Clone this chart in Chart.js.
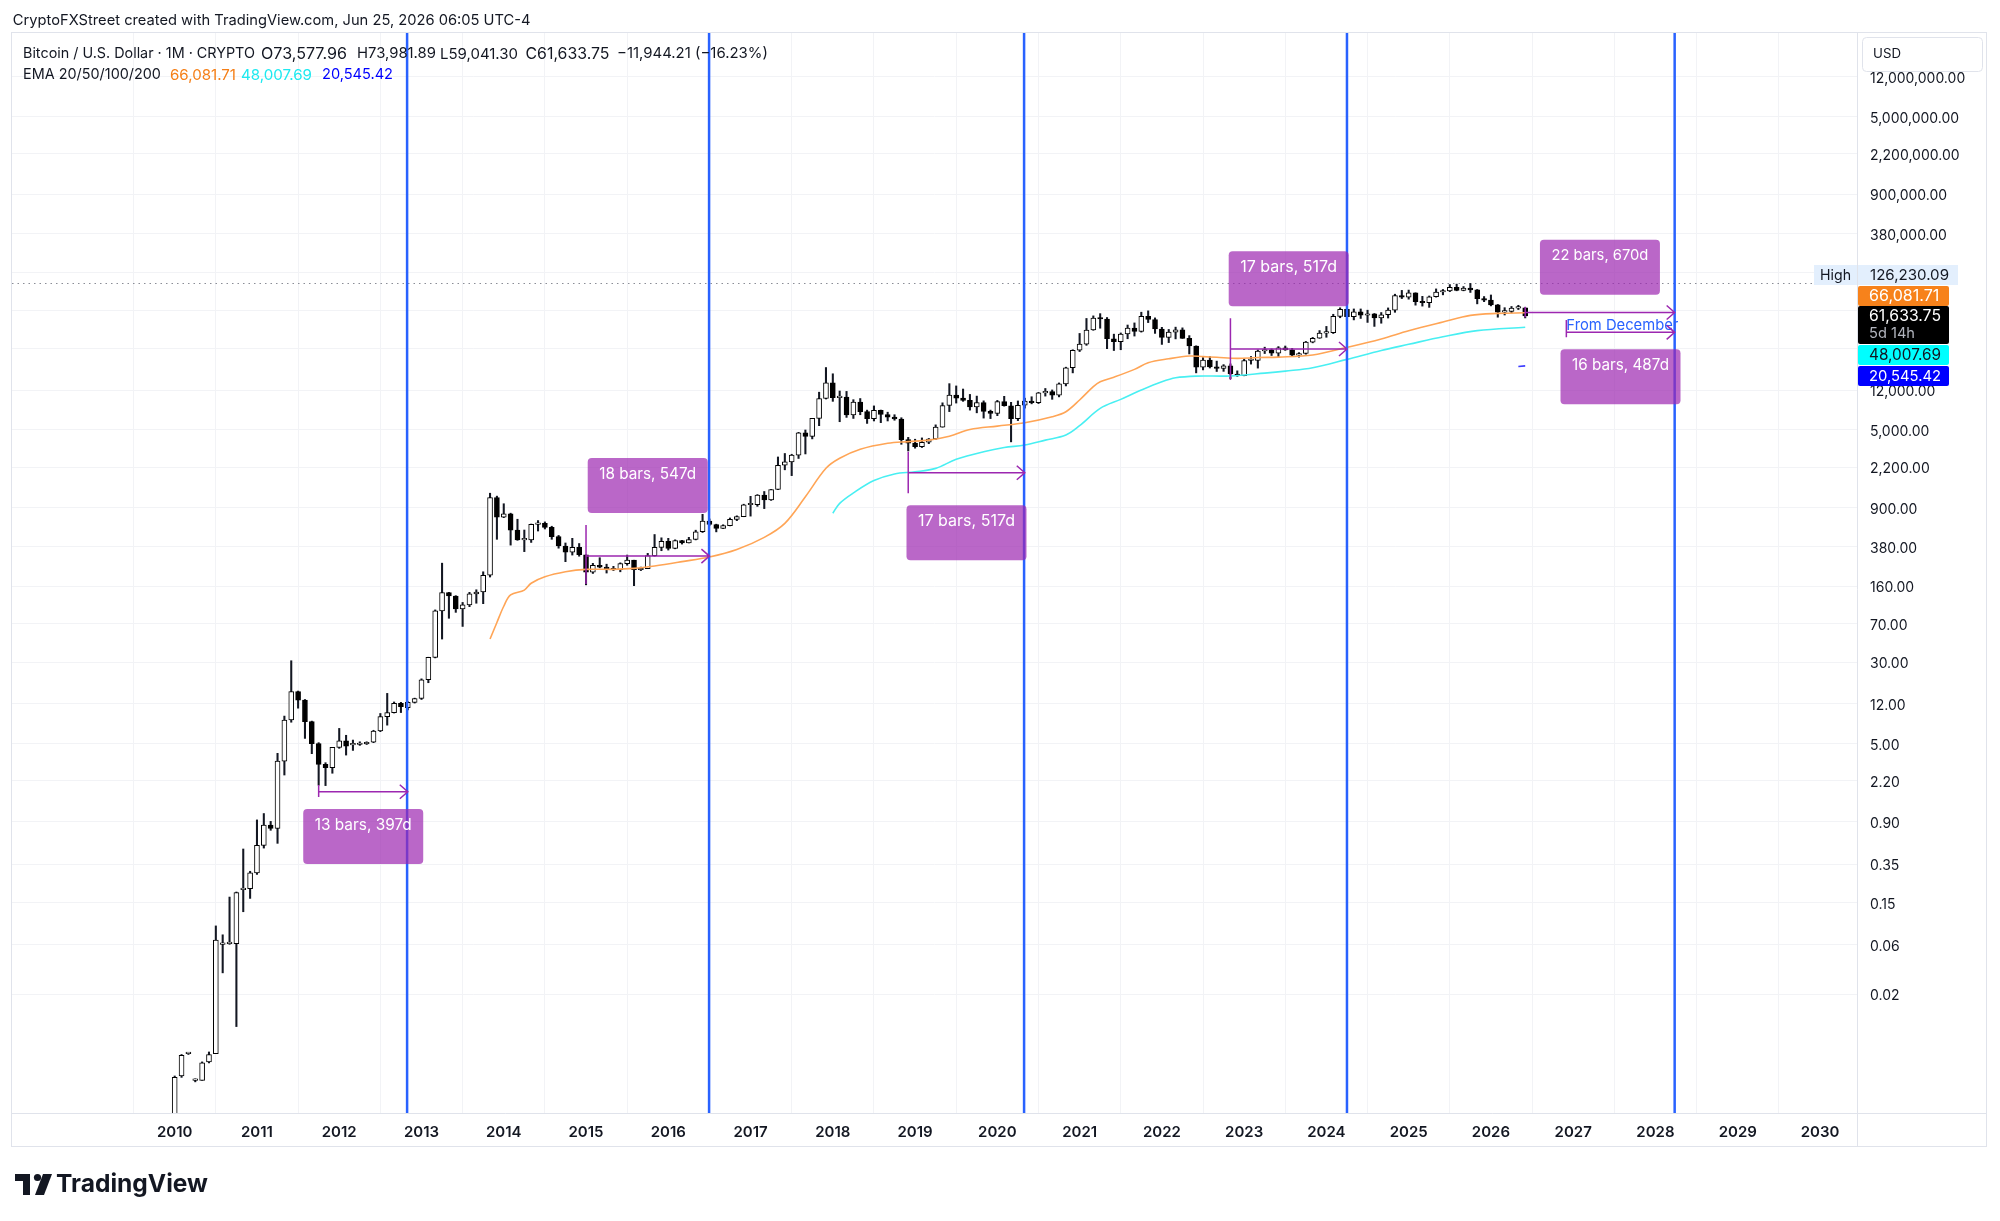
<!DOCTYPE html>
<html>
<head>
<meta charset="utf-8">
<script src="https://cdn.jsdelivr.net/npm/chart.js@4.4.1/dist/chart.umd.min.js"></script>
<style>
  html, body { margin: 0; padding: 0; background: #fff; }
  canvas { display: block; }
</style>
</head>
<body>
<canvas id="chart" width="2000" height="1221"></canvas>
<script>
// monthly candles, index 0 = Jan 2010
const opens = [
  0.0012, 0.0033, 0.0054, 0.0030, 0.0030, 0.0045, 0.0054, 0.060, 0.061, 0.061, 0.20, 0.205,
  0.29, 0.53, 0.83, 0.77, 3.4, 8.4, 15.7, 13.0, 8.1, 5.0, 3.16, 2.94,
  4.59, 5.32, 4.85, 4.9, 4.97, 5.15, 6.6, 9.05, 9.87, 12.1, 11.0, 12.4,
  13.5, 20.4, 33.4, 93, 139, 129, 97, 106, 135, 141, 204, 1130,
  732, 790, 550, 445, 445, 625, 640, 585, 478, 388, 338, 378,
  320, 218, 254, 244, 236, 230, 263, 284, 230, 236, 314, 377,
  430, 368, 437, 416, 448, 531, 673, 624, 573, 609, 698, 742,
  963, 965, 1190, 1071, 1348, 2300, 2480, 2875, 4700, 4340, 6450, 10000,
  14150, 10200, 10300, 6970, 9240, 7500, 6400, 7730, 7030, 6630, 6370, 4040,
  3740, 3460, 3820, 4100, 5320, 8570, 10820, 10080, 9600, 8300, 9150, 7540,
  7200, 9350, 8530, 6420, 8630, 9450, 9140, 11340, 11650, 10780, 13800, 19700,
  28950, 33100, 45240, 58800, 57700, 37300, 35040, 41460, 47100, 43800, 61300, 57000,
  46300, 38500, 43200, 45500, 37700, 31800, 19940, 23300, 20050, 19430, 20500, 17170,
  16540, 23130, 23150, 28480, 29250, 27200, 30480, 29240, 25950, 26970, 34650, 37720,
  42280, 42580, 61130, 71300, 60630, 67500, 62700, 64620, 58970, 63330, 70220, 96450,
  93430, 102430, 84350, 82550, 94200, 104600, 107150, 115750, 108250, 114050, 109550, 90400,
  87500, 78600, 67000, 68200, 73200, 73577.96
];
const highs = [
  0.0033, 0.0053, 0.0055, 0.0031, 0.0045, 0.0056, 0.090, 0.074, 0.17, 0.19, 0.49, 0.30,
  0.93, 1.07, 0.90, 4.03, 9.16, 31.0, 15.9, 13.2, 8.2, 5.1, 3.28, 4.6,
  6.98, 6.0, 5.4, 5.2, 5.2, 6.7, 9.7, 15.1, 12.5, 12.4, 12.6, 13.6,
  20.8, 33.5, 95, 266, 140, 130, 112, 140, 148, 220, 1242, 1165,
  985, 800, 700, 552, 630, 680, 660, 600, 490, 415, 460, 410,
  320, 265, 300, 260, 248, 268, 318, 284, 244, 330, 500, 465,
  460, 445, 440, 470, 550, 780, 705, 628, 620, 720, 755, 975,
  1160, 1205, 1290, 1350, 2760, 2980, 2930, 4750, 5000, 6470, 11500, 19800,
  17250, 11800, 11700, 9750, 10000, 7750, 8500, 7760, 7400, 7000, 6550, 4250,
  4080, 4200, 4150, 5600, 9100, 13880, 13200, 12330, 10950, 10550, 9500, 7750,
  9600, 10500, 9200, 9480, 10080, 10400, 11450, 12480, 12080, 14100, 19950, 29300,
  41950, 58350, 61780, 64900, 59600, 41300, 42400, 50500, 52900, 67000, 69000, 59100,
  48000, 45800, 48200, 47450, 40000, 31950, 24650, 25200, 22800, 21100, 21450, 18400,
  23950, 25250, 29200, 31000, 29850, 31400, 31800, 30200, 27500, 35200, 38450, 44700,
  48970, 64000, 73800, 72750, 71950, 71950, 70000, 65100, 66500, 73600, 99600, 108300,
  109100, 102750, 95000, 95750, 111900, 110500, 123100, 124400, 117900, 126230.09, 110600, 94600,
  97900, 79500, 74000, 76000, 78000, 73981.89
];
const lows = [
  0.0011, 0.0032, 0.0053, 0.0029, 0.0030, 0.0044, 0.0054, 0.032, 0.060, 0.0098, 0.123, 0.165,
  0.28, 0.50, 0.74, 0.555, 2.5, 8.0, 10.9, 5.6, 4.0, 2.0, 1.98, 2.6,
  4.5, 3.88, 4.3, 4.8, 4.9, 5.1, 6.5, 7.5, 9.8, 9.9, 10.5, 12.2,
  13.2, 19.1, 33, 50, 79, 90, 66, 102, 110, 109, 196, 450,
  725, 396, 440, 343, 420, 540, 565, 450, 370, 275, 318, 310,
  165, 212, 240, 214, 226, 220, 254, 162, 226, 236, 310, 350,
  355, 365, 405, 415, 444, 523, 610, 530, 570, 605, 678, 740,
  750, 930, 885, 1060, 1345, 2080, 1830, 2670, 2950, 4110, 5500, 9900,
  9400, 6000, 6600, 6450, 7000, 5780, 6100, 5880, 6100, 6200, 3650, 3150,
  3350, 3400, 3700, 4050, 5320, 7500, 9050, 9400, 7750, 7300, 6500, 6430,
  6860, 8450, 3850, 6150, 8100, 8900, 8950, 10550, 9830, 10370, 13200, 17600,
  28150, 32300, 44950, 47050, 30000, 28800, 29300, 37330, 39600, 43200, 53300, 42000,
  32950, 34300, 37200, 37600, 26700, 17600, 18800, 19600, 18150, 18200, 15500, 16300,
  16500, 21350, 19550, 26950, 25800, 24800, 28900, 25400, 24900, 26550, 34100, 37650,
  38550, 41900, 59300, 56500, 56550, 58400, 53500, 49000, 52550, 58900, 66850, 90500,
  89250, 78250, 76600, 74500, 93400, 98200, 105300, 107350, 107300, 103500, 80500, 84500,
  77000, 60000, 63000, 66000, 71000, 59041.30
];
const closes = [
  0.0032, 0.0052, 0.0054, 0.0030, 0.0044, 0.0053, 0.066, 0.061, 0.062, 0.188, 0.201, 0.29,
  0.53, 0.83, 0.77, 3.40, 8.4, 15.7, 13.0, 8.1, 5.0, 3.16, 2.94, 4.59,
  5.32, 4.73, 4.9, 4.97, 5.15, 6.6, 9.05, 9.87, 12.1, 11.3, 12.4, 13.5,
  20.4, 33.4, 93, 139, 129, 97, 106, 135, 141, 204, 1130, 732,
  790, 550, 445, 445, 625, 640, 585, 478, 388, 338, 378, 320,
  218, 254, 244, 236, 230, 263, 284, 230, 236, 314, 377, 430,
  368, 437, 416, 448, 531, 673, 624, 573, 609, 698, 742, 963,
  965, 1190, 1071, 1348, 2300, 2480, 2875, 4700, 4340, 6450, 10000, 14150,
  10200, 10300, 6970, 9240, 7500, 6400, 7730, 7030, 6630, 6370, 4040, 3740,
  3460, 3820, 4100, 5320, 8570, 10820, 10080, 9600, 8300, 9150, 7540, 7200,
  9350, 8530, 6420, 8630, 9450, 9140, 11340, 11650, 10780, 13800, 19700, 28950,
  33100, 45240, 58800, 57700, 37300, 35040, 41460, 47100, 43800, 61300, 57000, 46300,
  38500, 43200, 45500, 37700, 31800, 19940, 23300, 20050, 19430, 20500, 17170, 16540,
  23130, 23150, 28480, 29250, 27200, 30480, 29240, 25950, 26970, 34650, 37720, 42280,
  42580, 61130, 71300, 60630, 67500, 62700, 64620, 58970, 63330, 70220, 96450, 93430,
  102430, 84350, 82550, 94200, 104600, 107150, 115750, 108250, 114050, 109550, 90400, 87500,
  78600, 67000, 68200, 73200, 73577.96, 61633.75
];

// EMA lines (month index, value)
const ema20Months = [46, 47, 48, 49, 51, 52, 54, 57, 60, 64, 67, 70, 74, 78, 82, 86, 89, 92, 95, 97, 100, 104, 107, 110, 113, 116, 120, 124, 128, 130, 132, 134, 135, 137, 140, 142, 145, 148, 150, 152, 155, 158, 161, 166, 171, 176, 180, 185, 189, 193, 197];
const ema20 = [50, 72, 103, 132, 147, 171, 197, 220, 232, 232, 237, 250, 275, 305, 360, 470, 640, 1150, 2150, 2680, 3270, 3730, 3870, 4000, 4350, 5050, 5450, 5870, 6700, 7480, 9680, 13000, 14480, 16000, 19010, 22000, 24000, 25500, 25200, 24800, 24200, 24700, 24900, 26100, 30900, 37200, 44500, 54000, 62500, 65300, 66081.71];
const ema50Months = [96, 97, 99, 102, 105, 108, 111, 114, 118, 121, 124, 127, 130, 132, 135, 138, 141, 144, 146, 149, 154, 159, 162, 166, 171, 176, 180, 185, 190, 197];
const ema50 = [800, 994, 1250, 1640, 1900, 1990, 2147, 2620, 3100, 3400, 3590, 4000, 4480, 5500, 8050, 9820, 12060, 14480, 15800, 16400, 16450, 17500, 18300, 19700, 23700, 28800, 33000, 39000, 44600, 48007.69];
const ema100Months = [196, 197];
const ema100 = [20250, 20545.42];

// axes
const yearTicks = [0, 12, 24, 36, 48, 60, 72, 84, 96, 108, 120, 132, 144, 156, 168, 180, 192, 204, 216, 228, 240];
const yearLabels = ['2010', '2011', '2012', '2013', '2014', '2015', '2016', '2017', '2018', '2019', '2020', '2021', '2022', '2023', '2024', '2025', '2026', '2027', '2028', '2029', '2030'];
const priceTicks = [12000000, 5000000, 2200000, 900000, 380000, 160000, 70000, 30000, 12000, 5000, 2200, 900, 380, 160, 70, 30, 12, 5, 2.2, 0.9, 0.35, 0.15, 0.06, 0.02];
const priceLabels = ['12,000,000.00', '5,000,000.00', '2,200,000.00', '900,000.00', '380,000.00', '', '', '', '12,000.00', '5,000.00', '2,200.00', '900.00', '380.00', '160.00', '70.00', '30.00', '12.00', '5.00', '2.20', '0.90', '0.35', '0.15', '0.06', '0.02'];

// drawings
const halvingMonths = [33.9, 77.95, 123.9, 171, 218.8];
const rangeLabels = ['13 bars, 397d', '18 bars, 547d', '17 bars, 517d', '17 bars, 517d', '22 bars, 670d', '16 bars, 487d'];
const rangeStart = [21, 60, 107, 154, 197, 203];
const rangeEnd = [34, 78, 124, 171, 218.8, 218.8];
const rangePrice = [1.73, 311, 1952, 29800, 66600, 43000];
const rangeTop = [2.01, 617, 3100, 58600, 75600, 56400];
const rangeBottom = [1.54, 168, 1240, 15040, 59800, 38550];
const rangeSide = ['below', 'above', 'below', 'above', 'above', 'below'];
const athHigh = 126230.09;
const tagTexts = ['126,230.09', '66,081.71', '61,633.75', '48,007.69', '20,545.42'];

const FONT = 'Inter, "Noto Sans", sans-serif';
const months = opens.map((_, i) => i);

function fitText(ctx, txt, x, y, w, size, weight) {
  ctx.font = `${weight} ${size}px ${FONT}`;
  if (w) {
    const m = ctx.measureText(txt).width;
    const s = Math.max(0.85, Math.min(1.15, w / m));
    ctx.font = `${weight} ${(size * s).toFixed(2)}px ${FONT}`;
  }
  ctx.fillText(txt, x, y);
}

function rrect(ctx, x, y, w, h, r) {
  ctx.beginPath();
  ctx.roundRect(x, y, w, h, r);
}

const overlay = {
  id: 'overlay',
  beforeDraw(chart) {
    const ctx = chart.ctx;
    ctx.save();
    ctx.fillStyle = '#ffffff';
    ctx.fillRect(0, 0, chart.width, chart.height);
    ctx.restore();
  },
  beforeDatasetsDraw(chart) {
    const { ctx, chartArea: a, scales: { y } } = chart;
    ctx.save();
    // all-time high dotted line
    const hy = Math.round(y.getPixelForValue(athHigh)) + 0.5;
    ctx.strokeStyle = '#8a8d96';
    ctx.lineWidth = 1;
    ctx.setLineDash([1.5, 4]);
    ctx.beginPath();
    ctx.moveTo(a.left, hy);
    ctx.lineTo(1814, hy);
    ctx.stroke();
    ctx.restore();
  },
  afterDatasetsDraw(chart) {
    const { ctx, chartArea: a, scales: { x, y } } = chart;
    ctx.save();
    ctx.beginPath();
    ctx.rect(a.left, a.top, a.right - a.left, a.bottom - a.top);
    ctx.clip();

    // "From December" note above the last range
    const i6 = 5;
    ctx.fillStyle = '#2962ff';
    ctx.textBaseline = 'middle';
    ctx.textAlign = 'left';
    fitText(ctx, 'From December', x.getPixelForValue(rangeStart[i6]), y.getPixelForValue(rangePrice[i6]) - 7, 112, 15, 400);

    // halving lines
    ctx.strokeStyle = '#2962ff';
    ctx.lineWidth = 2.5;
    halvingMonths.forEach(m => {
      const px = x.getPixelForValue(m);
      ctx.beginPath();
      ctx.moveTo(px, a.top);
      ctx.lineTo(px, a.bottom);
      ctx.stroke();
    });

    // date ranges
    rangeLabels.forEach((lab, i) => {
      const x1 = x.getPixelForValue(rangeStart[i]);
      const x2 = x.getPixelForValue(rangeEnd[i]);
      const ly = y.getPixelForValue(rangePrice[i]);
      const t = y.getPixelForValue(rangeTop[i]);
      const b = y.getPixelForValue(rangeBottom[i]);
      ctx.strokeStyle = '#9c27b0';
      ctx.lineWidth = 1.5;
      ctx.beginPath();
      ctx.moveTo(x1, t); ctx.lineTo(x1, b);
      ctx.moveTo(x1, ly); ctx.lineTo(x2, ly);
      ctx.moveTo(x2 - 8, ly - 7); ctx.lineTo(x2, ly); ctx.lineTo(x2 - 8, ly + 7);
      ctx.stroke();

      const bw = 120, bh = 55;
      const bx = (x1 + x2) / 2 - bw / 2;
      const by = rangeSide[i] === 'below' ? b + 12 : t - 12 - bh;
      ctx.fillStyle = 'rgba(156, 39, 176, 0.7)';
      rrect(ctx, bx, by, bw, bh, 4);
      ctx.fill();
      ctx.fillStyle = '#ffffff';
      ctx.textAlign = 'center';
      ctx.textBaseline = 'middle';
      fitText(ctx, lab, bx + bw / 2, by + 16, 97, 15, 400);
    });
    ctx.restore();
  },
  afterDraw(chart) {
    const { ctx } = chart;
    ctx.save();
    // frame
    ctx.strokeStyle = '#e0e3eb';
    ctx.lineWidth = 1;
    ctx.strokeRect(11.5, 32.5, 1975, 1114);
    ctx.beginPath();
    ctx.moveTo(1857.5, 32.5); ctx.lineTo(1857.5, 1146.5);
    ctx.moveTo(11.5, 1113.5); ctx.lineTo(1986.5, 1113.5);
    ctx.stroke();

    // currency box
    ctx.fillStyle = '#ffffff';
    rrect(ctx, 1862.5, 37.5, 120, 34, 4);
    ctx.fill();
    ctx.strokeStyle = '#e0e3eb';
    ctx.stroke();
    ctx.fillStyle = '#131722';
    ctx.textAlign = 'left';
    ctx.textBaseline = 'middle';
    fitText(ctx, 'USD', 1873, 54, 28, 14, 400);

    // price tags on the axis
    ctx.fillStyle = '#e3effd';
    ctx.fillRect(1814, 265, 43, 20);
    ctx.fillRect(1858, 265, 100, 20);
    ctx.fillStyle = '#131722';
    fitText(ctx, 'High', 1820, 275.5, 31, 14, 400);
    fitText(ctx, tagTexts[0], 1870, 275.5, 79, 14, 400);
    const tags = [
      { top: 286, h: 20, bg: '#f7821b', fg: '#ffffff', txt: tagTexts[1] },
      { top: 306, h: 38, bg: '#000000', fg: '#ffffff', txt: tagTexts[2] },
      { top: 345, h: 20, bg: '#00ffff', fg: '#131722', txt: tagTexts[3] },
      { top: 366, h: 20, bg: '#0000ff', fg: '#ffffff', txt: tagTexts[4] }
    ];
    tags.forEach(tg => {
      ctx.fillStyle = tg.bg;
      rrect(ctx, 1858, tg.top, 91, tg.h, 2);
      ctx.fill();
      ctx.fillStyle = tg.fg;
      fitText(ctx, tg.txt, 1869, tg.top + 10.5, 72, 14, 400);
    });
    ctx.fillStyle = '#b2b5be';
    fitText(ctx, '5d 14h', 1869, 333.5, 46, 14, 400);

    // header
    ctx.fillStyle = '#131722';
    fitText(ctx, 'CryptoFXStreet created with TradingView.com, Jun 25, 2026 06:05 UTC-4', 12.8, 21, 518, 15, 400);

    // legend
    const l1 = [
      ['Bitcoin / U.S. Dollar \u00b7 1M \u00b7 CRYPTO', 23, 232],
      ['O73,577.96', 261, 87],
      ['H73,981.89', 357, 79],
      ['L59,041.30', 440, 78],
      ['C61,633.75', 525.5, 84],
      ['\u221211,944.21 (\u221216.23%)', 617, 151]
    ];
    l1.forEach(p => fitText(ctx, p[0], p[1], 54, p[2], 14, 400));
    fitText(ctx, 'EMA 20/50/100/200', 23, 75, 138, 14, 400);
    ctx.fillStyle = '#f57f17';
    fitText(ctx, '66,081.71', 170, 75, 66, 14, 400);
    ctx.fillStyle = '#1de9f0';
    fitText(ctx, '48,007.69', 241, 75, 71, 14, 400);
    ctx.fillStyle = '#0000ff';
    fitText(ctx, '20,545.42', 322, 75, 71, 14, 400);

    // TradingView logo
    ctx.fillStyle = '#131722';
    ctx.fillRect(15, 1174, 15, 7);
    ctx.fillRect(23, 1174, 7, 21);
    ctx.beginPath();
    ctx.arc(37.5, 1177.5, 3.6, 0, Math.PI * 2);
    ctx.fill();
    ctx.beginPath();
    ctx.moveTo(43, 1174); ctx.lineTo(52, 1174); ctx.lineTo(44, 1195); ctx.lineTo(35, 1195);
    ctx.closePath();
    ctx.fill();
    fitText(ctx, 'TradingView', 56, 1185, 152, 26, 700);
    ctx.restore();
  }
};

const PX_LEFT = 12, PX_RIGHT = 1857, X0 = 174.7, PX_PER_MONTH = 6.8554;
const yLog = (py) => 3.69897 + (430 - py) / 104.52;

const ctx = document.getElementById('chart').getContext('2d');
new Chart(ctx, {
  type: 'bar',
  data: {
    datasets: [
      {
        type: 'line', label: 'EMA 20',
        data: ema20Months.map((m, i) => ({ x: m, y: ema20[i] })),
        borderColor: '#ffa556', borderWidth: 1.6, pointRadius: 0, tension: 0.35, order: 1
      },
      {
        type: 'line', label: 'EMA 50',
        data: ema50Months.map((m, i) => ({ x: m, y: ema50[i] })),
        borderColor: '#48eff2', borderWidth: 1.6, pointRadius: 0, tension: 0.35, order: 1
      },
      {
        type: 'line', label: 'EMA 100',
        data: ema100Months.map((m, i) => ({ x: m, y: ema100[i] })),
        borderColor: '#3d3dff', borderWidth: 1.6, pointRadius: 0, order: 1
      },
      {
        label: 'wicks',
        data: months.map(i => ({ x: i, y: [lows[i], highs[i]] })),
        backgroundColor: '#131722', barThickness: 1.4, grouped: false, order: 3
      },
      {
        label: 'bodies',
        data: months.map(i => ({ x: i, y: [opens[i], closes[i]] })),
        backgroundColor: c => (closes[c.dataIndex] >= opens[c.dataIndex] ? '#ffffff' : '#000000'),
        borderColor: '#000000', borderWidth: 1, borderSkipped: false,
        barThickness: 5, minBarLength: 1.5, grouped: false, order: 2
      }
    ]
  },
  options: {
    responsive: false,
    animation: false,
    devicePixelRatio: 1,
    layout: { padding: { left: PX_LEFT, top: 33, right: 0, bottom: 0 } },
    plugins: { legend: { display: false }, tooltip: { enabled: false } },
    scales: {
      x: {
        type: 'linear', offset: false,
        min: (PX_LEFT - X0) / PX_PER_MONTH,
        max: (PX_RIGHT - X0) / PX_PER_MONTH,
        grid: { color: '#f2f3f6', drawTicks: false },
        border: { display: false },
        afterBuildTicks: s => { s.ticks = yearTicks.map(v => ({ value: v })); },
        afterFit: s => { s.height = 108; },
        ticks: {
          autoSkip: false, maxRotation: 0, padding: 10, color: '#131722',
          font: { family: FONT, size: 15, weight: '600' },
          callback: (v, i) => yearLabels[i]
        }
      },
      y: {
        type: 'logarithmic', position: 'right',
        min: Math.pow(10, yLog(1113)),
        max: Math.pow(10, yLog(33)),
        grid: { color: '#f2f3f6', drawTicks: false },
        border: { display: false },
        afterBuildTicks: s => { s.ticks = priceTicks.map(v => ({ value: v })); },
        afterFit: s => { s.width = 143; },
        ticks: {
          autoSkip: false, padding: 13, labelOffset: 2, color: '#131722',
          font: { family: FONT, size: 14 },
          callback: (v, i) => priceLabels[i]
        }
      }
    }
  },
  plugins: [overlay]
});
</script>
</body>
</html>
